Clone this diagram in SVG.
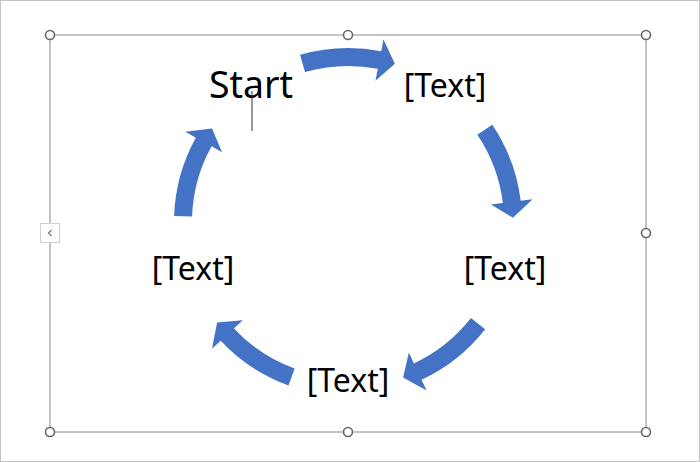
<svg xmlns="http://www.w3.org/2000/svg" width="700" height="462" viewBox="0 0 700 462">
<style>
.lbl{font-family:"Noto Sans","Open Sans",sans-serif;font-size:32px;fill:#000;text-anchor:middle}
.handle{fill:#fff;stroke:#666;stroke-width:1.6}
.arrow{fill:#4472C4}
</style>
<defs>
<path id="arc" class="arrow" d="M -47.96 -167.26 A 174 174 0 0 1 33.20 -170.80 L 35.49 -182.58 L 46.86 -158.21 L 27.48 -141.35 L 29.77 -153.13 A 156 156 0 0 0 -43.00 -149.96 Z"/>
</defs>
<rect x="0.5" y="0.5" width="699" height="461" fill="#fff" stroke="#c4c4c4"/>
<rect x="50" y="35" width="596" height="397" fill="none" stroke="#8a8a8a" stroke-width="1"/>
<g id="connectors" transform="translate(348 222)">
<use href="#arc"/>
<use href="#arc" transform="rotate(72)"/>
<use href="#arc" transform="rotate(144)"/>
<use href="#arc" transform="rotate(216)"/>
<use href="#arc" transform="rotate(288)"/>
</g>
<g id="node-start"><text class="lbl" x="251" y="98" style="font-size:37.5px">Start</text></g>
<g id="node-2"><text class="lbl" x="445" y="97">[Text]</text></g>
<g id="node-3"><text class="lbl" x="505" y="280">[Text]</text></g>
<g id="node-4"><text class="lbl" x="348" y="392">[Text]</text></g>
<g id="node-5"><text class="lbl" x="193" y="280">[Text]</text></g>
<line x1="252" y1="91" x2="252" y2="131" stroke="#333" stroke-width="1"/>
<g id="handles">
<circle class="handle" cx="50" cy="35" r="4.5"/>
<circle class="handle" cx="348" cy="35" r="4.5"/>
<circle class="handle" cx="646" cy="35" r="4.5"/>
<circle class="handle" cx="646" cy="233" r="4.5"/>
<circle class="handle" cx="646" cy="432" r="4.5"/>
<circle class="handle" cx="348" cy="432" r="4.5"/>
<circle class="handle" cx="50" cy="432" r="4.5"/>
</g>
<g id="tab">
<rect x="40.5" y="223.5" width="19" height="19" fill="#fff" stroke="#d0d0d0"/>
<polyline points="51.5,230 48.5,233 51.5,236" fill="none" stroke="#777" stroke-width="1.2"/>
</g>
</svg>
